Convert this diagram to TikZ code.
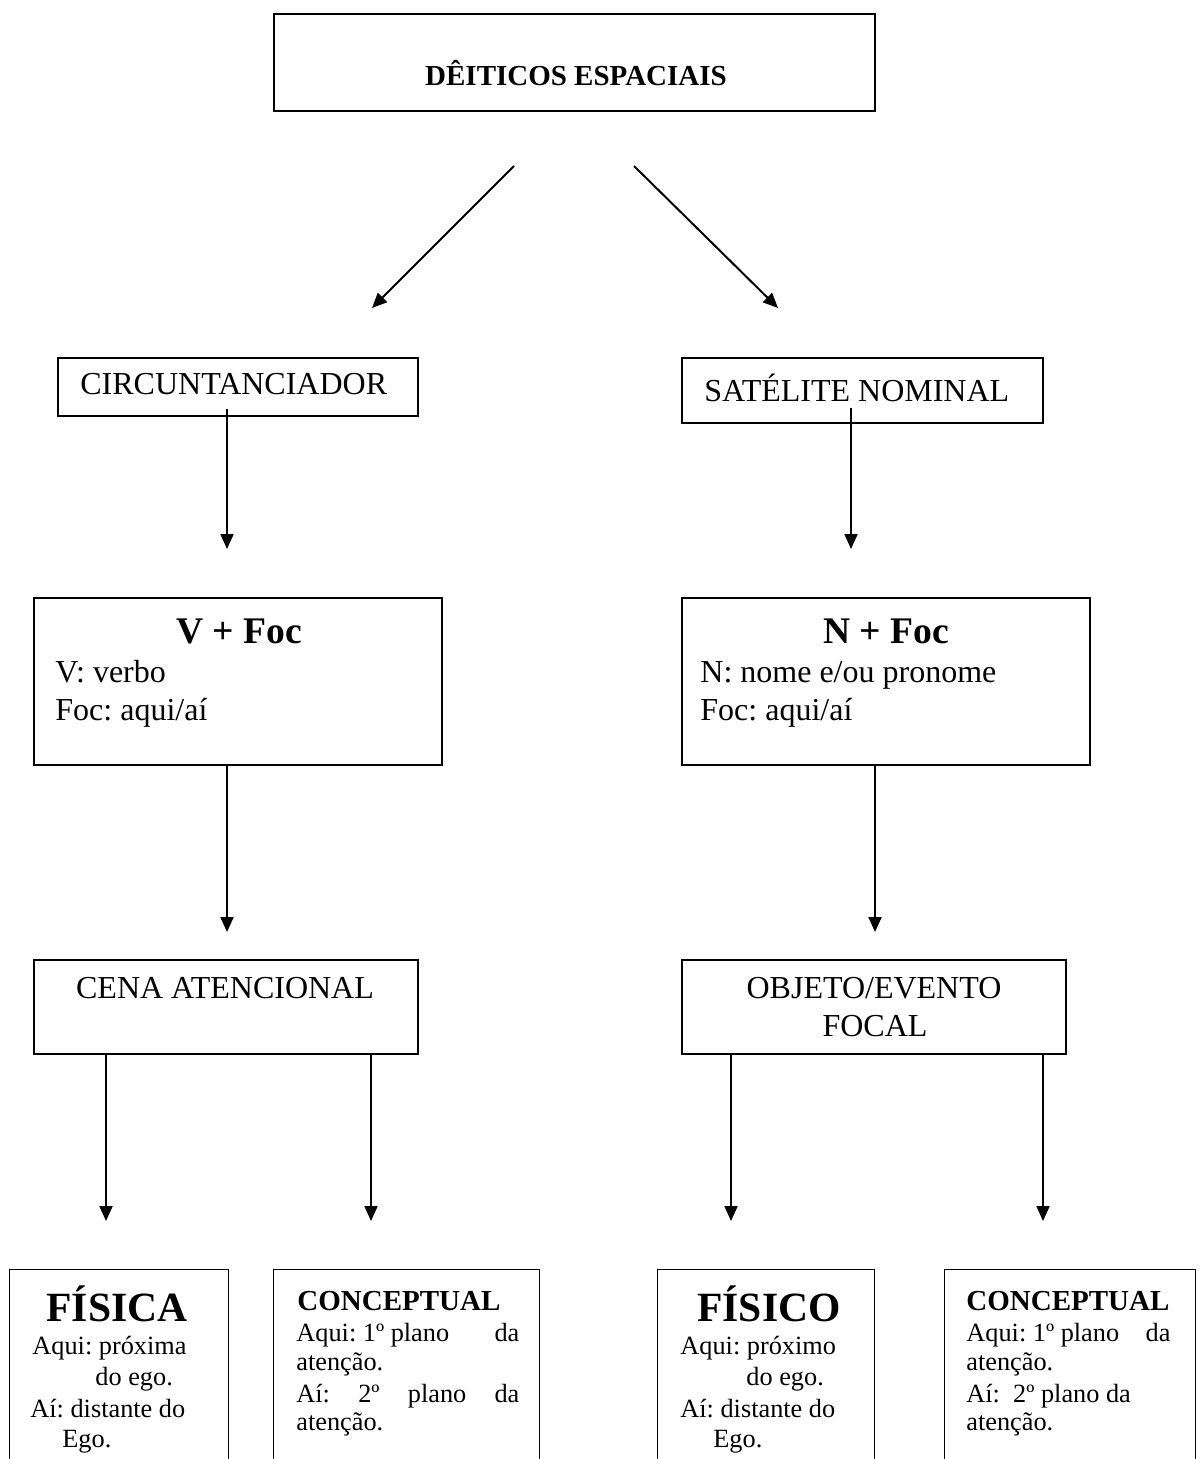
\documentclass[tikz,border=0pt]{standalone}
\usepackage{fontspec}
\setmainfont{Liberation Serif}
\usetikzlibrary{arrows.meta,fit}
\frenchspacing
\begin{document}
\begin{tikzpicture}[x=0.5pt,y=-0.5pt,
  box/.style={draw,line width=0.75pt,inner sep=0pt},
  area/.style={inner sep=0pt},
  side/.style={line width=0.75pt},
  conn/.style={line width=1pt,-{Triangle[length=7.5pt,width=6.5pt]}},
  txt/.style={inner sep=0pt,font=\fontsize{16}{20}\selectfont},
  head/.style={inner sep=0pt,font=\fontsize{14.5}{18}\selectfont\bfseries},
  big/.style={inner sep=0pt,font=\fontsize{18.8}{22}\selectfont\bfseries},
  huge/.style={inner sep=0pt,font=\fontsize{20.8}{24}\selectfont\bfseries},
  small/.style={inner sep=0pt,font=\fontsize{13.15}{16}\selectfont},
]
\useasboundingbox (0,0) rectangle (1200,1459);

% ---- boxes ----
\node[box,fit={(274,14) (875,111)}] (top) {};
\node[box,fit={(58,358) (418,416)}] (circ) {};
\node[box,fit={(682,358) (1043,423)}] (sat) {};
\node[box,fit={(34,598) (442,765)}] (vfoc) {};
\node[box,fit={(682,598) (1090,765)}] (nfoc) {};
\node[box,fit={(34,960) (418,1054)}] (cena) {};
\node[box,fit={(682,960) (1066,1054)}] (obj) {};

% bottom boxes run past the lower edge of the page
\node[area,fit={(10,1270) (228,1470)}] (fis) {};
\node[area,fit={(274,1270) (539,1470)}] (conA) {};
\node[area,fit={(658,1270) (874,1470)}] (fiso) {};
\node[area,fit={(945,1270) (1195,1470)}] (conB) {};
\foreach \b in {fis,conA,fiso,conB}
  \draw[side] (\b.south west) -- (\b.north west) -- (\b.north east) -- (\b.south east);

% ---- texts ----
\node[head,anchor=base] (topT) at (576,86) {DÊITICOS ESPACIAIS};
\node[txt,anchor=base west] (circT) at (80,395) {CIRCUNTANCIADOR};
\node[txt,anchor=base west] (satT) at (704,402) {SATÉLITE NOMINAL};

\node[big,anchor=base] (vT) at (239,643) {V + Foc};
\node[txt,anchor=base west] (v1) at (55,682) {V: verbo};
\node[txt,anchor=base west] (v2) at (55,720) {Foc: aqui/aí};
\node[big,anchor=base] (nT) at (886,643) {N + Foc};
\node[txt,anchor=base west] (n1) at (700,682) {N: nome e/ou pronome};
\node[txt,anchor=base west] (n2) at (700,720) {Foc: aqui/aí};

\node[txt,anchor=base] (cenaT) at (225,998) {CENA ATENCIONAL};
\node[txt,anchor=base] (objT1) at (874,998) {OBJETO/EVENTO};
\node[txt,anchor=base] (objT2) at (875,1036) {FOCAL};

\node[huge,anchor=base] (fisT) at (117,1321) {FÍSICA};
\node[small,anchor=base west] (fis1) at (32,1354) {Aqui: próxima};
\node[small,anchor=base west] (fis2) at (95,1385) {do ego.};
\node[small,anchor=base west] (fis3) at (30,1417) {Aí: distante do};
\node[small,anchor=base west] (fis4) at (62,1447) {Ego.};

\node[head,anchor=base west] (conAT) at (297,1310) {CONCEPTUAL};
\node[small,anchor=base west] (conA1) at (296,1341) {\makebox[111.5pt][l]{Aqui: 1º plano\hfill da}};
\node[small,anchor=base west] (conA2) at (296,1370) {atenção.};
\node[small,anchor=base west] (conA3) at (296,1402) {\makebox[111.5pt][s]{Aí: 2º plano da}};
\node[small,anchor=base west] (conA4) at (296,1430) {atenção.};

\node[huge,anchor=base] (fisoT) at (769,1321) {FÍSICO};
\node[small,anchor=base west] (fiso1) at (680,1354) {Aqui: próximo};
\node[small,anchor=base west] (fiso2) at (746,1385) {do ego.};
\node[small,anchor=base west] (fiso3) at (680,1417) {Aí: distante do};
\node[small,anchor=base west] (fiso4) at (713,1447) {Ego.};

\node[head,anchor=base west] (conBT) at (966,1310) {CONCEPTUAL};
\node[small,anchor=base west] (conB1) at (966,1341) {\makebox[102pt][l]{Aqui: 1º plano\hfill da}};
\node[small,anchor=base west] (conB2) at (966,1370) {atenção.};
\node[small,anchor=base west] (conB3) at (966,1402) {Aí:\ \ 2º plano da};
\node[small,anchor=base west] (conB4) at (966,1430) {atenção.};

% ---- connectors ----
\coordinate (dLs) at (514,166);
\coordinate (dLe) at (372,308);
\coordinate (dRs) at (634,166);
\coordinate (dRe) at (778,308);
\draw[conn] (dLs) -- (dLe);
\draw[conn] (dRs) -- (dRe);

\coordinate (tC) at (227,549);
\coordinate (tS) at (851,549);
\draw[conn] (circ.south -| tC) ++(0,-8) -- (tC);
\draw[conn] (sat.south -| tS) ++(0,-16) -- (tS);

\coordinate (tV) at (227,932);
\coordinate (tN) at (875,932);
\draw[conn] (vfoc.south -| tV) -- (tV);
\draw[conn] (nfoc.south -| tN) -- (tN);

\coordinate (t1) at (106,1221);
\coordinate (t2) at (371,1221);
\coordinate (t3) at (731,1221);
\coordinate (t4) at (1043,1221);
\draw[conn] (cena.south -| t1) -- (t1);
\draw[conn] (cena.south -| t2) -- (t2);
\draw[conn] (obj.south -| t3) -- (t3);
\draw[conn] (obj.south -| t4) -- (t4);
\end{tikzpicture}
\end{document}
